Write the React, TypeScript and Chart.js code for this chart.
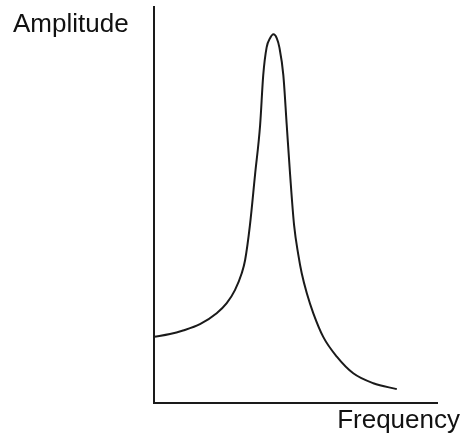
import React, { useEffect, useRef } from "react";
import { Chart, registerables } from "chart.js";

Chart.register(...registerables);

const frequency = [0, 5.65, 10.25, 16.25, 22.15, 25.7, 28.6, 31.0, 32.2, 33.9, 35.7, 37.5, 38.6, 39.8, 41.0, 42.2, 43.4, 44.3, 45.7, 46.9, 48.1, 49.5, 51.0, 52.2, 54.0, 56.3, 59.8, 64.6, 70.4, 77.5, 85.8];
const amplitude = [16.7, 17.4, 18.3, 19.9, 22.65, 25.2, 28.5, 32.75, 36.1, 44.9, 57.6, 70.2, 82.8, 89.8, 92.1, 93.1, 92.1, 89.8, 82.8, 70.2, 57.6, 44.9, 37.4, 32.75, 27.7, 22.65, 16.7, 11.7, 7.5, 5.0, 3.5];
const xLabel = "Frequency";
const yLabel = "Amplitude";

const labelPlugin = {
  id: "cornerLabels",
  afterDraw(chart: any) {
    const ctx = chart.ctx;
    ctx.save();
    ctx.fillStyle = "#111";
    ctx.font = "26px 'Liberation Sans', Arial, sans-serif";
    ctx.textBaseline = "alphabetic";
    ctx.textAlign = "left";
    ctx.fillText(yLabel, 13, 32);
    ctx.textAlign = "right";
    ctx.fillText(xLabel, 460, 428);
    ctx.restore();
  },
};

export default function App() {
  const ref = useRef<HTMLCanvasElement>(null);
  useEffect(() => {
    document.body.style.margin = "0";
    const chart = new Chart(ref.current!, {
      type: "line",
      data: {
        datasets: [
          {
            data: frequency.map((f, i) => ({ x: f, y: amplitude[i] })),
            borderColor: "#1a1a1a",
            borderWidth: 2,
            pointRadius: 0,
            cubicInterpolationMode: "monotone",
            fill: false,
          },
        ],
      },
      options: {
        animation: false,
        responsive: false,
        layout: { padding: { left: 146, top: 7, right: 24, bottom: 25 } },
        plugins: { legend: { display: false }, tooltip: { enabled: false } },
        scales: {
          x: {
            type: "linear",
            min: 0,
            max: 100,
            grid: { display: false },
            ticks: { display: false },
            border: { display: true, color: "#1a1a1a", width: 2 },
          },
          y: {
            min: 0,
            max: 100,
            grid: { display: false },
            ticks: { display: false },
            border: { display: true, color: "#1a1a1a", width: 2 },
          },
        },
      },
      plugins: [labelPlugin],
    });
    return () => chart.destroy();
  }, []);
  return (
    <div style={{ position: "fixed", left: 0, top: 0, width: 461, height: 436, background: "#fff" }}>
      <canvas ref={ref} width={461} height={436} style={{ width: 461, height: 436 }} />
    </div>
  );
}
